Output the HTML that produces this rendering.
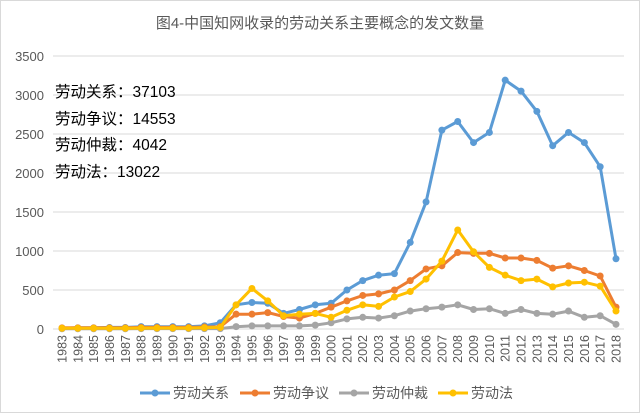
<!DOCTYPE html>
<html><head><meta charset="utf-8"><style>
html,body{margin:0;padding:0;background:#fff}
svg{display:block}
text{font-family:"Liberation Sans","Noto Sans CJK SC",sans-serif}
</style></head><body>
<svg id="c" width="640" height="413" xmlns="http://www.w3.org/2000/svg">
<rect x="0.5" y="0.5" width="639" height="412" fill="#fff" stroke="#d9d9d9"/>
<text x="320" y="28" text-anchor="middle" font-size="15" fill="#595959">图4-中国知网收录的劳动关系主要概念的发文数量</text>
<g id="grid"></g>
<g id="series"></g>
<g font-size="15.5" fill="#000">
<text x="55" y="97">劳动关系：37103</text>
<text x="55" y="124">劳动争议：14553</text>
<text x="55" y="150">劳动仲裁：4042</text>
<text x="55" y="177">劳动法：13022</text>
</g>
<g font-size="14" fill="#595959">
<line x1="140" y1="393" x2="170" y2="393" stroke="#5B9BD5" stroke-width="3"/><circle cx="155" cy="393" r="3.5" fill="#5B9BD5"/><text x="173" y="398">劳动关系</text>
<line x1="240" y1="393" x2="270" y2="393" stroke="#ED7D31" stroke-width="3"/><circle cx="255" cy="393" r="3.5" fill="#ED7D31"/><text x="273" y="398">劳动争议</text>
<line x1="339" y1="393" x2="369" y2="393" stroke="#A5A5A5" stroke-width="3"/><circle cx="354" cy="393" r="3.5" fill="#A5A5A5"/><text x="372" y="398">劳动仲裁</text>
<line x1="438" y1="393" x2="468" y2="393" stroke="#FFC000" stroke-width="3"/><circle cx="453" cy="393" r="3.5" fill="#FFC000"/><text x="471" y="398">劳动法</text>
</g>
</svg>
<script>
var NS="http://www.w3.org/2000/svg";
function el(t,a,p,txt){var e=document.createElementNS(NS,t);for(var k in a)e.setAttribute(k,a[k]);if(txt!=null)e.textContent=txt;p.appendChild(e);return e;}
var g=document.getElementById('grid'),s=document.getElementById('series');
function Y(v){return 329-v*39/500;}
function X(i){return 62+i*(616-62)/35;}
for(var v=0;v<=3500;v+=500){
 if(v>0)el('line',{x1:53,x2:624,y1:Y(v),y2:Y(v),stroke:'#d9d9d9','stroke-width':1},g);
 el('text',{x:44,y:Y(v)+5,'text-anchor':'end','font-size':13,fill:'#595959'},g,String(v));
}
el('line',{x1:53,x2:624,y1:329,y2:329,stroke:'#d9d9d9','stroke-width':1},g);
for(var i=0;i<36;i++){
 var x=X(i);
 el('text',{x:0,y:0,transform:'translate('+(x+4.5)+',335) rotate(-90)','text-anchor':'end','font-size':12.5,fill:'#595959'},g,String(1983+i));
}
var D=[
['#5B9BD5',[10,15,15,20,20,30,30,30,30,40,80,310,340,330,200,250,310,330,500,620,690,710,1110,1630,2550,2660,2390,2520,3190,3050,2790,2350,2520,2390,2080,900]],
['#ED7D31',[15,15,15,15,15,20,20,20,20,25,30,190,190,210,160,140,200,280,360,430,450,500,620,770,810,980,970,970,910,910,880,780,810,750,680,280]],
['#A5A5A5',[3,3,3,3,3,5,5,5,5,5,5,30,40,40,40,40,50,80,130,150,140,170,230,260,280,310,250,260,200,250,200,190,230,150,170,60]],
['#FFC000',[10,10,10,10,10,12,12,12,12,15,20,310,520,360,170,190,200,150,240,310,290,410,480,640,870,1270,990,790,690,620,640,540,590,600,550,230]]
];
D.forEach(function(d){
 var pts=d[1].map(function(v,i){return X(i).toFixed(1)+','+Y(v).toFixed(1)}).join(' ');
 el('polyline',{points:pts,fill:'none',stroke:d[0],'stroke-width':3,'stroke-linejoin':'round'},s);
 d[1].forEach(function(v,i){el('circle',{cx:X(i),cy:Y(v),r:3.5,fill:d[0]},s);});
});
</script>
</body></html>
